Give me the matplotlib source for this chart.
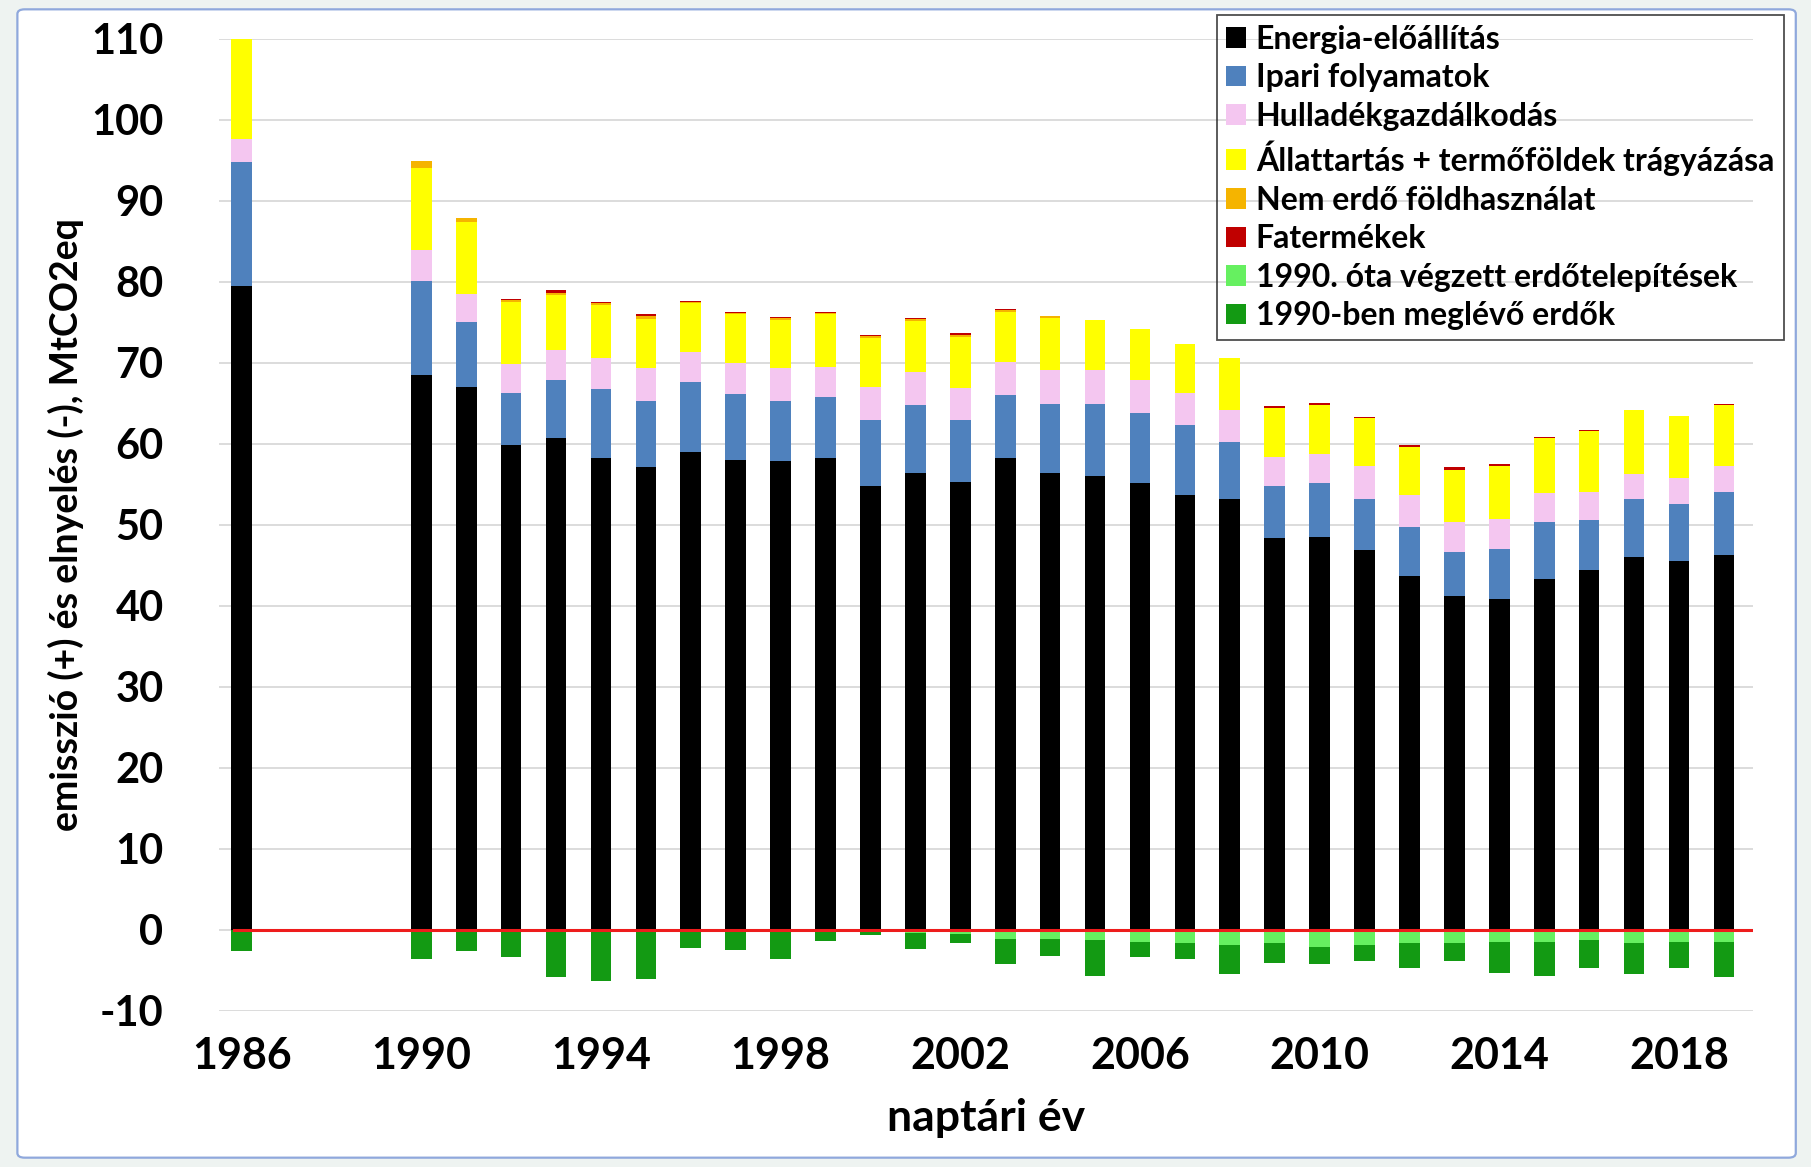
import matplotlib
matplotlib.use("Agg")
import matplotlib.pyplot as plt
import numpy as np
from matplotlib.patches import FancyBboxPatch, Patch

years = [1986] + list(range(1990, 2020))

energia = [79.5, 68.5, 67.0, 59.8, 60.7, 58.2, 57.1, 58.9, 58.0, 57.8, 58.2, 54.7, 56.4, 55.3, 58.2, 56.4,
           56.0, 55.1, 53.7, 53.1, 48.3, 48.5, 46.9, 43.7, 41.2, 40.8, 43.3, 44.4, 46.0, 45.5, 46.2]
ipari = [15.2, 11.6, 8.0, 6.5, 7.1, 8.5, 8.2, 8.7, 8.1, 7.5, 7.6, 8.2, 8.3, 7.6, 7.85, 8.5,
         8.9, 8.7, 8.6, 7.1, 6.4, 6.6, 6.3, 6.0, 5.4, 6.2, 7.0, 6.2, 7.2, 7.1, 7.8]
hulladek = [2.9, 3.8, 3.5, 3.5, 3.7, 3.8, 4.0, 3.7, 3.9, 4.0, 3.7, 4.1, 4.1, 4.0, 4.0, 4.2,
            4.2, 4.0, 3.9, 3.9, 3.7, 3.6, 4.0, 4.0, 3.7, 3.7, 3.6, 3.4, 3.1, 3.2, 3.2]
allattartas = [12.4, 10.1, 8.9, 7.7, 6.9, 6.6, 6.1, 6.0, 6.0, 6.0, 6.5, 6.0, 6.3, 6.3, 6.25, 6.4,
               6.1, 6.3, 6.1, 6.4, 6.0, 6.1, 5.9, 5.9, 6.4, 6.55, 6.8, 7.6, 7.8, 7.6, 7.6]
nem_erdo = [0.0, 0.9, 0.4, 0.2, 0.2, 0.25, 0.4, 0.15, 0.15, 0.15, 0.15, 0.25, 0.25, 0.25, 0.15, 0.2,
            -0.2, -0.3, -0.3, -0.35, -0.3, -0.3, -0.3, -0.25, -0.2, -0.15, -0.15, -0.1, -0.15, -0.15, -0.15]
fatermek = [0.0, 0.0, 0.1, 0.2, 0.3, 0.15, 0.2, 0.15, 0.15, 0.15, 0.15, 0.15, 0.15, 0.15, 0.1, 0.1,
            0.05, 0.05, 0.05, 0.05, 0.2, 0.2, 0.2, 0.2, 0.35, 0.2, 0.05, 0.05, 0.05, 0.05, 0.05]
erdotelepites = [0.0, 0.0, -0.05, -0.1, -0.1, -0.15, -0.2, -0.2, -0.25, -0.3, -0.3, -0.35, -0.4, -0.5, -1.1, -1.1,
                 -1.1, -1.2, -1.4, -1.6, -1.4, -1.9, -1.65, -1.45, -1.5, -1.35, -1.35, -1.2, -1.55, -1.35, -1.35]
meglevo_erdok = [-2.7, -3.6, -2.65, -3.3, -5.7, -6.15, -5.9, -2.1, -2.25, -3.3, -1.1, -0.35, -2.0, -1.1, -3.1, -2.1,
                 -4.4, -1.9, -1.95, -3.5, -2.4, -2.1, -1.95, -3.1, -2.2, -3.8, -4.2, -3.5, -3.75, -3.3, -4.4]

series_names = ["Energia-előállítás", "Ipari folyamatok", "Hulladékgazdálkodás",
                "Állattartás + termőföldek trágyázása", "Nem erdő földhasználat", "Fatermékek",
                "1990. óta végzett erdőtelepítések", "1990-ben meglévő erdők"]
series_vals = [energia, ipari, hulladek, allattartas, nem_erdo, fatermek, erdotelepites, meglevo_erdok]
colors = ["#000000", "#4f81bd", "#f4c6f0", "#ffff00", "#f5b400", "#c00000", "#66f060", "#139a13"]

xticks = list(range(1986, 2019, 4))
yticks = list(range(-10, 111, 10))

plt.rcParams['font.family'] = ['Lato', 'DejaVu Sans']
plt.rcParams['axes.unicode_minus'] = False

fig = plt.figure(figsize=(18.11, 11.67), dpi=100)
fig.patch.set_facecolor("#eef3f1")
frame = FancyBboxPatch((0.0096, 0.008), 0.982, 0.984, boxstyle="round,pad=0,rounding_size=0.004",
                       transform=fig.transFigure, facecolor="white", edgecolor="#8fa8dc", lw=1.6, zorder=-5)
fig.patches.append(frame)

ax = fig.add_axes([0.121, 0.134, 0.847, 0.833])
ax.set_facecolor("none")

x = np.array(years, dtype=float)
pos_bottom = np.zeros(len(years))
neg_bottom = np.zeros(len(years))
width = 0.46
for name, vals, col in zip(series_names, series_vals, colors):
    v = np.array(vals, dtype=float)
    pos = np.where(v > 0, v, 0.0)
    neg = np.where(v < 0, v, 0.0)
    ax.bar(x, pos, width, bottom=pos_bottom, color=col, edgecolor="none", zorder=2)
    ax.bar(x, neg, width, bottom=neg_bottom, color=col, edgecolor="none", zorder=2)
    pos_bottom += pos
    neg_bottom += neg

ax.axhline(0, color="#ee1c1c", lw=2.2, zorder=3, xmin=0.01, xmax=1.0)

ax.set_xlim(1985.5, 2019.65)
ax.set_ylim(-10, 110)
ax.set_yticks(yticks)
ax.set_xticks(xticks)
ax.yaxis.grid(True, color="#d9d9d9", lw=1.3, zorder=0)
ax.set_axisbelow(True)
for s in ax.spines.values():
    s.set_visible(False)
ax.tick_params(axis="y", length=0, labelsize=30, pad=40)
ax.tick_params(axis="x", length=0, labelsize=31, pad=18)
for lab in ax.get_xticklabels() + ax.get_yticklabels():
    lab.set_fontweight("bold")

ax.set_ylabel("emisszió (+) és elnyelés (-), MtCO2eq", fontsize=27, fontweight="bold", labelpad=12)
ax.yaxis.set_label_coords(-0.088, 0.5)
ax.set_xlabel("naptári év", fontsize=32, fontweight="bold", labelpad=16)

handles = [Patch(facecolor=c, edgecolor="none") for c in colors]
leg = ax.legend(handles, series_names, loc="upper right", bbox_to_anchor=(1.02, 1.024),
                fontsize=23, frameon=True, fancybox=False, handlelength=0.62, handleheight=0.62,
                handletextpad=0.3, labelspacing=0.3, borderpad=0.3, borderaxespad=0.0)
leg.get_frame().set_edgecolor("#222222")
leg.get_frame().set_linewidth(1.3)
leg.get_frame().set_facecolor("none")
for t in leg.get_texts():
    t.set_fontweight("bold")

fig.savefig("out.png", dpi=100)
